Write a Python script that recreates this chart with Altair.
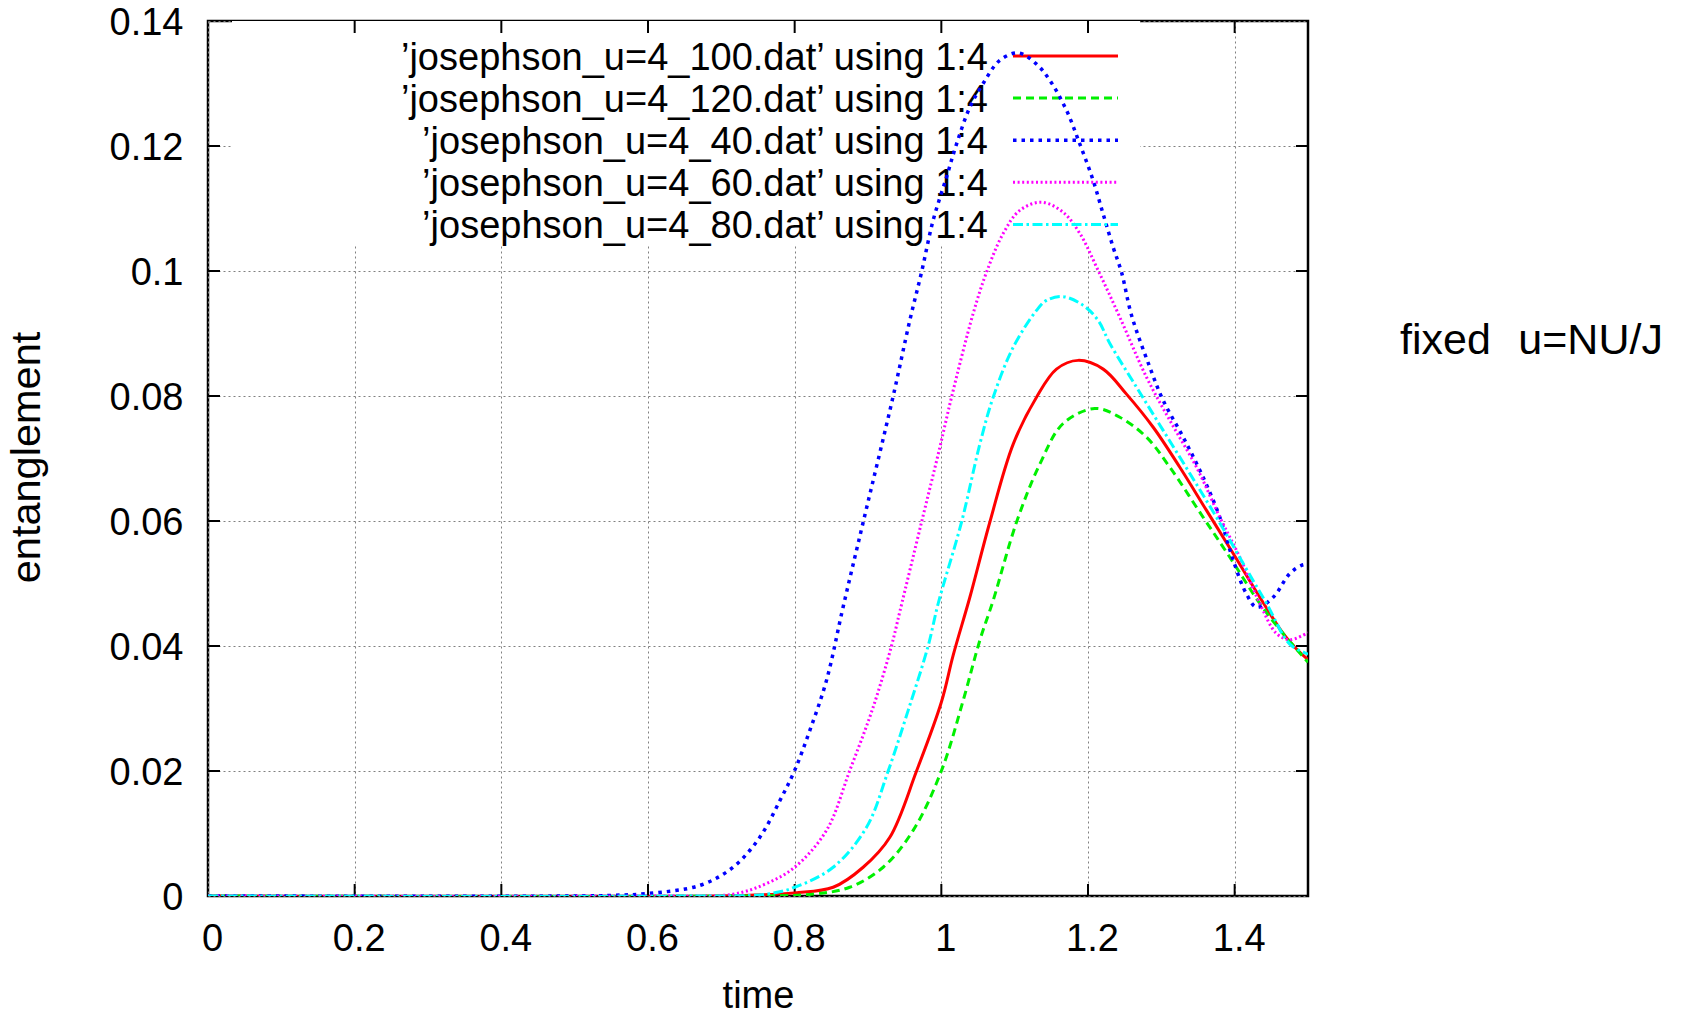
import altair as alt
import pandas as pd

# ---------------- data ----------------
t_100 = [0, 0.7, 0.8, 0.8525, 0.8934, 0.9298, 0.9662, 1.0, 1.0161, 1.0389, 1.0661, 1.098,
         1.1298, 1.157, 1.1866, 1.2207, 1.2525, 1.2889, 1.3252, 1.3616, 1.398, 1.4343,
         1.466, 1.482, 1.5]
e_100 = [0, 0, 0.0005, 0.0014, 0.0046, 0.0094, 0.02, 0.031, 0.0385, 0.0478, 0.0598, 0.0723,
         0.0798, 0.0843, 0.0857, 0.0843, 0.0803, 0.075, 0.0686, 0.0617, 0.0548, 0.0478,
         0.042, 0.0398, 0.0378]

t_120 = [0, 0.72, 0.825, 0.875, 0.9207, 0.9616, 1.0, 1.0298, 1.0525, 1.0707, 1.1025, 1.1343,
         1.1661, 1.2093, 1.2434, 1.2798, 1.3116, 1.357, 1.3934, 1.4343, 1.466, 1.5]
e_120 = [0, 0, 0.0003, 0.0014, 0.0046, 0.0105, 0.02, 0.0313, 0.0409, 0.0473, 0.0598, 0.0691,
         0.0756, 0.078, 0.0766, 0.0734, 0.0686, 0.0606, 0.0542, 0.0468, 0.042, 0.0374]

t_40 = [0, 0.5, 0.55, 0.6, 0.6707, 0.716, 0.7525, 0.78, 0.8, 0.8207, 0.8434, 0.866, 0.8934,
        0.934, 0.957, 0.973, 0.9888, 1.007, 1.0207, 1.0389, 1.057, 1.0797, 1.1048, 1.1298,
        1.148, 1.1707, 1.1889, 1.207, 1.2207, 1.2343, 1.2457, 1.2594, 1.2843, 1.3025, 1.3298,
        1.357, 1.3798, 1.398, 1.4162, 1.43, 1.4525, 1.4752, 1.4912, 1.5]
e_40 = [0, 0, 0.0001, 0.0004, 0.0017, 0.0046, 0.0094, 0.0153, 0.0201, 0.0265, 0.0345, 0.0462,
        0.0598, 0.0798, 0.0921, 0.0998, 0.1081, 0.115, 0.1203, 0.1262, 0.13, 0.1337, 0.1349,
        0.1331, 0.1305, 0.1257, 0.1203, 0.1145, 0.1091, 0.1038, 0.0998, 0.0929, 0.0846,
        0.0793, 0.0734, 0.067, 0.0606, 0.0537, 0.0483, 0.0462, 0.0478, 0.0516, 0.0529, 0.0531]

t_60 = [0, 0.6, 0.716, 0.7616, 0.8, 0.8434, 0.8752, 0.907, 0.932, 0.9434, 0.973, 0.998,
        1.0139, 1.0434, 1.0616, 1.0843, 1.107, 1.1366, 1.1661, 1.1889, 1.2138, 1.2434,
        1.2798, 1.3116, 1.348, 1.3798, 1.407, 1.4343, 1.457, 1.4752, 1.498, 1.5]
e_60 = [0, 0, 0.0003, 0.002, 0.0046, 0.0105, 0.0201, 0.0302, 0.04, 0.0455, 0.0598, 0.0718,
        0.0798, 0.0932, 0.0998, 0.106, 0.1097, 0.111, 0.1094, 0.106, 0.1001, 0.0926,
        0.083, 0.0761, 0.0686, 0.0606, 0.0542, 0.0468, 0.042, 0.041, 0.042, 0.0421]

t_80 = [0, 0.65, 0.7616, 0.8, 0.8525, 0.898, 0.9275, 0.9548, 0.982, 0.9957, 1.0275, 1.0525,
        1.0707, 1.098, 1.1298, 1.1434, 1.166, 1.1934, 1.2138, 1.2298, 1.2662, 1.3025, 1.3389,
        1.3752, 1.4116, 1.4434, 1.4752, 1.498, 1.5]
e_80 = [0, 0, 0.0003, 0.0014, 0.0046, 0.011, 0.02, 0.0297, 0.04, 0.0468, 0.0598, 0.0723,
        0.0798, 0.0878, 0.0937, 0.0953, 0.0959, 0.0945, 0.0921, 0.0884, 0.0814, 0.0745,
        0.0676, 0.0606, 0.0532, 0.0468, 0.0403, 0.0388, 0.0387]

series_labels = [
    "\u2019josephson_u=4_100.dat\u2019 using 1:4",
    "\u2019josephson_u=4_120.dat\u2019 using 1:4",
    "\u2019josephson_u=4_40.dat\u2019 using 1:4",
    "\u2019josephson_u=4_60.dat\u2019 using 1:4",
    "\u2019josephson_u=4_80.dat\u2019 using 1:4",
]
series_t = [t_100, t_120, t_40, t_60, t_80]
series_e = [e_100, e_120, e_40, e_60, e_80]

x_ticks = [0, 0.2, 0.4, 0.6, 0.8, 1, 1.2, 1.4]
y_ticks = [0, 0.02, 0.04, 0.06, 0.08, 0.1, 0.12, 0.14]
x_title = "time"
y_title = "entanglement"
note_text = "fixed\u00a0\u200a u=NU/J"

# ---------------- styles / layout ----------------
W, H = 1100, 875
FONT = "Liberation Sans, Arial, Helvetica, sans-serif"
FS = 38
colors = ["#ff0000", "#00f000", "#0000ff", "#ff00ff", "#00ffff"]
dashes = [None, [8, 5], [3.5, 5], [2, 2.6], [10, 3.5, 2.5, 3.5]]
widths = [3, 3, 3.5, 3, 3]

xs = alt.Scale(domain=[0, 1.5], nice=False, zero=False)
ys = alt.Scale(domain=[0, 0.14], nice=False, zero=False)

common_axis = dict(
    grid=True, gridColor="#808080", gridDash=[2, 3], gridWidth=1,
    ticks=False, tickSize=0, domain=False, labelFlush=False, labelOverlap=False,
    labelFontSize=FS, labelFont=FONT, labelColor="black",
    titleFont=FONT, titleFontWeight="normal", titleColor="black",
    titleAlign="center", titleBaseline="middle", format="~g",
)
x_axis = alt.Axis(values=x_ticks, title=x_title, labelPadding=24, labelOffset=4,
                  titleFontSize=FS, titleX=W / 2, titleY=100, **common_axis)
y_axis = alt.Axis(values=y_ticks, title=y_title, labelPadding=25, labelOffset=2,
                  titleFontSize=41.5, titleX=-181, titleY=436, titleAngle=270,
                  **common_axis)


def X(field):
    return alt.X(field, scale=xs, axis=x_axis)


def Y(field):
    return alt.Y(field, scale=ys, axis=y_axis)


one = pd.DataFrame({"k": [0]})
layers = []

# key box (clears the grid behind the key, as gnuplot does)
layers.append(
    alt.Chart(one).mark_rect(color="white").encode(
        x=alt.value(24), x2=alt.value(932), y=alt.value(0), y2=alt.value(224))
)

# inward tick marks on all four sides
TL = 12
xt = pd.DataFrame({"v": x_ticks[1:]})
yt = pd.DataFrame({"v": y_ticks[1:-1]})
for y0, y1 in [(H, H - TL), (0, TL)]:
    layers.append(alt.Chart(xt).mark_rule(color="black", strokeWidth=2).encode(
        x=X("v:Q"), y=alt.value(y0), y2=alt.value(y1)))
for x0, x1 in [(0, TL), (W, W - TL)]:
    layers.append(alt.Chart(yt).mark_rule(color="black", strokeWidth=2).encode(
        y=Y("v:Q"), x=alt.value(x0), x2=alt.value(x1)))

# key labels
for i, lab in enumerate(series_labels):
    layers.append(
        alt.Chart(pd.DataFrame({"label": [lab]})).mark_text(
            align="right", baseline="alphabetic", fontSize=FS, font=FONT, color="black"
        ).encode(x=alt.value(780), y=alt.value(49 + 42.1 * i), text="label:N")
    )

# key samples + curves
for i in range(5):
    kw = dict(color=colors[i], strokeWidth=widths[i])
    if dashes[i] is not None:
        kw["strokeDash"] = dashes[i]
    layers.append(alt.Chart(one).mark_rule(**kw).encode(
        x=alt.value(805), x2=alt.value(910), y=alt.value(35 + 42.1 * i)))
    df = pd.DataFrame({"t": series_t[i], "e": series_e[i]})
    layers.append(
        alt.Chart(df).mark_line(interpolate="catmull-rom", clip=True, **kw).encode(
            x=X("t:Q"), y=Y("e:Q"))
    )

# side note
layers.append(
    alt.Chart(pd.DataFrame({"label": [note_text]})).mark_text(
        align="left", baseline="middle", fontSize=43, font=FONT, color="black"
    ).encode(x=alt.value(1192), y=alt.value(320), text="label:N")
)

chart = alt.layer(*layers).properties(
    width=W, height=H,
    autosize=alt.AutoSizeParams(type="none"),
    padding={"left": 208, "top": 21, "right": 400, "bottom": 122},
    background="white",
).configure_view(stroke="black", strokeWidth=2.5)

chart.save("out.html", embed_options={"renderer": "svg", "actions": False})
